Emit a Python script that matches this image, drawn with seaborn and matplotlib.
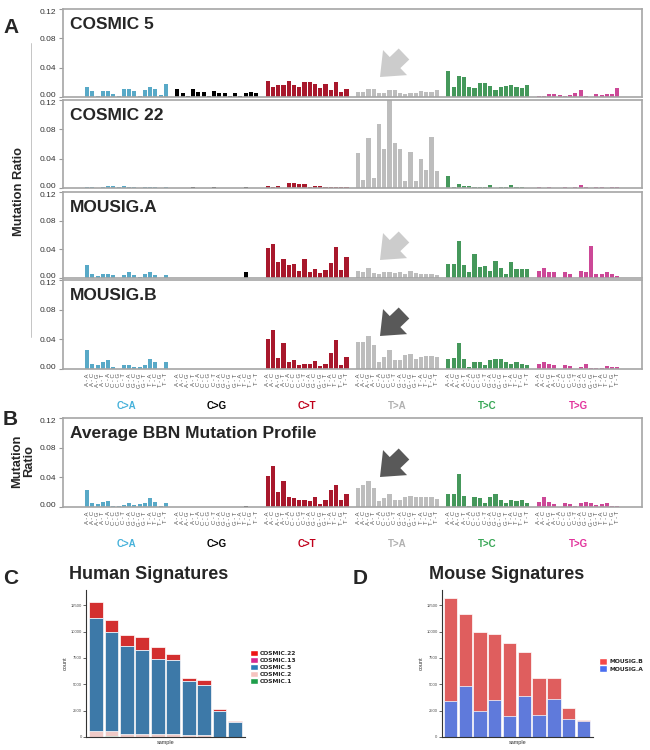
import numpy as np
import pandas as pd
import matplotlib
matplotlib.use("Agg")
from matplotlib import pyplot as plt
from matplotlib import transforms
from matplotlib.patches import Patch
import seaborn as sns

sns.set_style("white")
plt.rcParams['font.family'] = ['Liberation Sans', 'DejaVu Sans']

# ---- data -------------------------------------------------------------
mut_types = ['C>A', 'C>G', 'C>T', 'T>A', 'T>C', 'T>G']
mut_colors = {'C>A': '#45b1da', 'C>G': '#000000', 'C>T': '#c0001b',
              'T>A': '#bdbdbd', 'T>C': '#37a655', 'T>G': '#e2329c'}
label_colors = {'C>A': '#45b1da', 'C>G': '#000000', 'C>T': '#c0001b',
                'T>A': '#b0b0b0', 'T>C': '#37a655', 'T>G': '#e2329c'}
five_prime = list('AAAACCCCGGGGTTTT')
three_prime = list('ACGTACGTACGTACGT')

cosmic5 = [
    0.014, 0.008, 0.0015, 0.008, 0.008, 0.004, 0.002, 0.011, 0.011, 0.008, 0.002, 0.009, 0.013, 0.011, 0.003, 0.018,
    0.011, 0.006, 0.001, 0.011, 0.007, 0.007, 0.002, 0.008, 0.005, 0.005, 0.001, 0.005, 0.001, 0.006, 0.007, 0.006,
    0.022, 0.013, 0.016, 0.016, 0.022, 0.017, 0.013, 0.020, 0.020, 0.018, 0.012, 0.018, 0.009, 0.020, 0.007, 0.011,
    0.007, 0.007, 0.011, 0.011, 0.005, 0.006, 0.009, 0.009, 0.006, 0.004, 0.006, 0.005, 0.008, 0.007, 0.007, 0.010,
    0.035, 0.013, 0.028, 0.027, 0.013, 0.012, 0.019, 0.019, 0.015, 0.009, 0.014, 0.015, 0.017, 0.014, 0.012, 0.017,
    0.002, 0.002, 0.004, 0.004, 0.003, 0.002, 0.003, 0.006, 0.010, 0.001, 0.000, 0.004, 0.003, 0.004, 0.004, 0.0125,
]
cosmic22 = [
    0.001, 0.001, 0.000, 0.002, 0.003, 0.003, 0.001, 0.003, 0.001, 0.001, 0.000, 0.001, 0.002, 0.001, 0.000, 0.002,
    0.000, 0.000, 0.000, 0.001, 0.000, 0.000, 0.000, 0.001, 0.000, 0.000, 0.000, 0.000, 0.000, 0.001, 0.000, 0.000,
    0.003, 0.001, 0.003, 0.000, 0.007, 0.007, 0.006, 0.005, 0.002, 0.003, 0.003, 0.002, 0.002, 0.001, 0.001, 0.001,
    0.048, 0.011, 0.068, 0.014, 0.087, 0.053, 0.120, 0.061, 0.053, 0.009, 0.049, 0.010, 0.040, 0.025, 0.069, 0.023,
    0.016, 0.001, 0.005, 0.003, 0.003, 0.001, 0.002, 0.002, 0.004, 0.000, 0.001, 0.001, 0.004, 0.001, 0.001, 0.000,
    0.001, 0.000, 0.001, 0.000, 0.000, 0.001, 0.000, 0.001, 0.004, 0.002, 0.000, 0.001, 0.001, 0.000, 0.002, 0.002,
]
mousig_a = [
    0.018, 0.006, 0.003, 0.005, 0.006, 0.004, 0.000, 0.004, 0.008, 0.004, 0.002, 0.005, 0.008, 0.004, 0.000, 0.004,
    0.000, 0.000, 0.000, 0.000, 0.000, 0.000, 0.000, 0.000, 0.000, 0.000, 0.000, 0.000, 0.000, 0.008, 0.000, 0.000,
    0.042, 0.047, 0.023, 0.027, 0.018, 0.020, 0.010, 0.027, 0.008, 0.013, 0.007, 0.011, 0.021, 0.043, 0.011, 0.030,
    0.010, 0.009, 0.014, 0.007, 0.006, 0.009, 0.008, 0.007, 0.008, 0.005, 0.010, 0.007, 0.006, 0.006, 0.005, 0.004,
    0.020, 0.020, 0.051, 0.018, 0.008, 0.034, 0.015, 0.017, 0.010, 0.024, 0.014, 0.005, 0.023, 0.012, 0.012, 0.012,
    0.010, 0.014, 0.008, 0.008, 0.000, 0.008, 0.006, 0.000, 0.010, 0.009, 0.044, 0.006, 0.005, 0.009, 0.005, 0.003,
]
mousig_b = [
    0.025, 0.007, 0.005, 0.010, 0.012, 0.003, 0.000, 0.005, 0.005, 0.003, 0.003, 0.005, 0.014, 0.009, 0.000, 0.010,
    0.000, 0.000, 0.000, 0.000, 0.000, 0.000, 0.000, 0.000, 0.000, 0.000, 0.000, 0.000, 0.000, 0.0005, 0.000, 0.000,
    0.041, 0.052, 0.015, 0.035, 0.010, 0.012, 0.005, 0.007, 0.007, 0.011, 0.004, 0.007, 0.022, 0.039, 0.005, 0.016,
    0.037, 0.037, 0.045, 0.033, 0.010, 0.016, 0.026, 0.012, 0.012, 0.019, 0.020, 0.014, 0.016, 0.018, 0.017, 0.016,
    0.014, 0.015, 0.035, 0.013, 0.003, 0.010, 0.010, 0.005, 0.012, 0.013, 0.014, 0.010, 0.007, 0.009, 0.007, 0.005,
    0.007, 0.010, 0.007, 0.005, 0.000, 0.005, 0.004, 0.000, 0.003, 0.007, 0.001, 0.001, 0.001, 0.004, 0.003, 0.003,
]
bbn_average = [
    0.023, 0.005, 0.004, 0.007, 0.008, 0.001, 0.001, 0.003, 0.005, 0.003, 0.004, 0.006, 0.012, 0.007, 0.002, 0.006,
    0.0005, 0.0005, 0.0003, 0.0005, 0.0003, 0.0003, 0.0005, 0.0003, 0.0003, 0.0005, 0.0003, 0.0003, 0.0005, 0.001, 0.0003, 0.0003,
    0.042, 0.055, 0.020, 0.035, 0.013, 0.012, 0.009, 0.010, 0.008, 0.013, 0.004, 0.009, 0.023, 0.030, 0.009, 0.018,
    0.026, 0.029, 0.035, 0.025, 0.008, 0.012, 0.018, 0.010, 0.010, 0.014, 0.015, 0.013, 0.013, 0.013, 0.013, 0.011,
    0.017, 0.018, 0.045, 0.015, 0.002, 0.014, 0.012, 0.005, 0.013, 0.018, 0.010, 0.005, 0.010, 0.008, 0.009, 0.005,
    0.007, 0.014, 0.007, 0.004, 0.000, 0.005, 0.004, 0.001, 0.005, 0.007, 0.005, 0.003, 0.004, 0.005, 0.002, 0.001,
]

samples = list(range(1, 11))
human_cosmic1 = [0, 80, 0, 0, 0, 0, 0, 0, 0, 0]
human_cosmic2 = [550, 450, 320, 280, 250, 330, 200, 200, 40, 0]
human_cosmic5 = [10780, 9480, 8340, 7970, 7150, 7000, 5120, 4750, 2410, 1450]
human_cosmic13 = [0, 0, 0, 0, 0, 0, 0, 0, 0, 0]
human_cosmic22 = [1480, 1070, 1010, 1230, 1160, 540, 310, 470, 230, 30]
mouse_a = [3370, 4850, 2450, 3530, 1980, 3900, 2050, 3650, 1700, 1480]
mouse_b = [9850, 6800, 7530, 6230, 6960, 4160, 3560, 1960, 1040, 100]

human_colors = {'COSMIC.22': '#ee1414', 'COSMIC.13': '#d6288f', 'COSMIC.5': '#2b7bba',
                'COSMIC.2': '#f6c4c0', 'COSMIC.1': '#1f9e4b'}
mouse_colors = {'MOUSIG.B': '#f54848', 'MOUSIG.A': '#4a6ef0'}

# ---- helpers ----------------------------------------------------------
GROUP_STEP = 17.2  # 16 bars + gap


def profile_df(values):
    idx = np.arange(len(values))
    return pd.DataFrame({
        'value': values,
        'mut': [mut_types[i // 16] for i in idx],
        'pos': (idx // 16) * GROUP_STEP + idx % 16,
        'label': [f"{five_prime[i % 16]} - {three_prime[i % 16]}" for i in idx],
    })


def draw_profile(ax, values, title, show_x):
    df = profile_df(values)
    sns.barplot(data=df, x='pos', y='value', hue='mut', palette=mut_colors,
                native_scale=True, dodge=False, width=0.78, legend=False,
                errorbar=None, linewidth=0, ax=ax)
    ax.set_xlim(-4.6, 105.7)
    ax.set_ylim(0, 0.12)
    ax.set_xlabel('')
    ax.set_ylabel('')
    ax.set_yticks([0, 0.04, 0.08, 0.12])
    ax.set_yticklabels(['0.00', '0.04', '0.08', '0.12'])
    ax.tick_params(axis='y', length=3, color='#999999', labelsize=6,
                   labelcolor='#333333', pad=2, left=True)
    # keep end labels inside the panel so stacked panels don't collide
    ax.get_yticklabels()[-1].set_verticalalignment('top')
    ax.get_yticklabels()[0].set_verticalalignment('baseline')
    for s in ax.spines.values():
        s.set_color('#a6a6a6')
        s.set_linewidth(1.2)
    ax.text(0.012, 0.77, title, transform=ax.transAxes, fontsize=12.5,
            weight='bold', va='baseline')
    if show_x:
        ax.set_xticks(df['pos'])
        ax.set_xticklabels(df['label'], rotation=90, fontsize=4.3, color='#555555')
        ax.tick_params(axis='x', length=0, pad=3)
        trans = transforms.blended_transform_factory(ax.transData, ax.transAxes)
        for g, m in enumerate(mut_types):
            ax.text(g * GROUP_STEP + 7.5, -0.42, m, transform=trans, ha='center',
                    va='center', fontsize=7, weight='bold', color=label_colors[m])
    else:
        ax.set_xticks([])


def block_arrow(fig, tip, tail, color):
    fig.add_artist(matplotlib.patches.FancyArrowPatch(
        posA=(tail[0], 750 - tail[1]), posB=(tip[0], 750 - tip[1]),
        transform=None,
        arrowstyle="simple,head_length=0.75,head_width=1.25,tail_width=0.55",
        mutation_scale=20, color=color, lw=0, shrinkA=0, shrinkB=0))


def stacked(ax, layers, colors, xlim):
    # layers ordered bottom -> top; draw cumulative totals from the top down
    names = list(layers.keys())
    cum = np.cumsum([layers[n] for n in names], axis=0)
    for k in range(len(names) - 1, -1, -1):
        sns.barplot(x=samples, y=cum[k], color=colors[names[k]], width=0.9,
                    edgecolor='white', linewidth=0.5, errorbar=None, ax=ax)
    ax.set_xlim(*xlim)
    ax.set_ylim(0, 13950)
    ax.set_yticks([0, 2500, 5000, 7500, 10000, 12500])
    ax.set_xticks([])
    ax.tick_params(axis='y', length=2, width=0.5, labelsize=3, labelcolor='#4d4d4d',
                   pad=1, left=True)
    sns.despine(ax=ax)
    for s in ('left', 'bottom'):
        ax.spines[s].set_color('#333333')
        ax.spines[s].set_linewidth(0.8)
    ax.set_xlabel('sample', fontsize=4, color='#333333', labelpad=2)
    ax.set_ylabel('count', fontsize=4, color='#333333', labelpad=2)
    handles = [Patch(facecolor=colors[n], label=n) for n in reversed(names)]
    return handles


# ---- figure -----------------------------------------------------------
fig = plt.figure(figsize=(6.5, 7.5), dpi=100)


def px_axes(left, top, right, bottom):
    return fig.add_axes([left / 650, 1 - bottom / 750, (right - left) / 650, (bottom - top) / 750])


ax1 = px_axes(63, 9, 642, 97)
ax2 = px_axes(63, 100, 642, 188)
ax3 = px_axes(63, 192, 642, 278)
ax4 = px_axes(63, 280, 642, 369)
axb = px_axes(63, 418, 642, 507)

draw_profile(ax1, cosmic5, 'COSMIC 5', False)
draw_profile(ax2, cosmic22, 'COSMIC 22', False)
draw_profile(ax3, mousig_a, 'MOUSIG.A', False)
draw_profile(ax4, mousig_b, 'MOUSIG.B', True)
draw_profile(axb, bbn_average, 'Average BBN Mutation Profile', True)

block_arrow(fig, (380, 77), (404, 54), '#cccccc')
block_arrow(fig, (380, 260), (404, 237), '#cccccc')
block_arrow(fig, (380, 336), (404, 313), '#595959')
block_arrow(fig, (380, 477), (404, 454), '#595959')

fig.add_artist(matplotlib.lines.Line2D([31 / 650, 31 / 650], [1 - 43 / 750, 1 - 337 / 750],
                                       color='#bbbbbb', lw=0.6))
fig.text(19 / 650, 1 - 191 / 750, 'Mutation Ratio', rotation=90, ha='center', va='center',
         fontsize=9.3, weight='bold')
fig.text(23 / 650, 1 - 461 / 750, 'Mutation\nRatio', rotation=90, ha='center', va='center',
         fontsize=9.3, weight='bold', linespacing=1.05)

for letter, x, y in [('A', 3, 33), ('B', 3, 425), ('C', 3, 584), ('D', 353, 584)]:
    fig.text(x / 650, 1 - y / 750, letter, fontsize=15, weight='bold', va='baseline')

# C: human signatures
axc = px_axes(86, 590, 245, 737)
h_handles = stacked(axc, {'COSMIC.1': human_cosmic1, 'COSMIC.2': human_cosmic2,
                          'COSMIC.5': human_cosmic5, 'COSMIC.13': human_cosmic13,
                          'COSMIC.22': human_cosmic22}, human_colors, (-0.65, 9.65))
axc.legend(handles=h_handles, loc='center left', bbox_to_anchor=(1.03, 0.476),
           frameon=False, prop={'family': 'DejaVu Sans', 'weight': 'bold', 'size': 4.3},
           handlelength=1.3, handleheight=1.3, labelspacing=0.1, handletextpad=0.4,
           borderpad=0, borderaxespad=0)
fig.text(149 / 650, 1 - 579 / 750, 'Human Signatures', ha='center', va='baseline',
         fontsize=13, weight='bold')

# D: mouse signatures
axd = px_axes(441.7, 590, 593, 737)
m_handles = stacked(axd, {'MOUSIG.A': mouse_a, 'MOUSIG.B': mouse_b}, mouse_colors, (-0.6, 9.65))
axd.legend(handles=m_handles, loc='center left', bbox_to_anchor=(1.04, 0.49),
           frameon=False, prop={'family': 'DejaVu Sans', 'weight': 'bold', 'size': 4.3},
           handlelength=1.3, handleheight=1.3, labelspacing=0.1, handletextpad=0.4,
           borderpad=0, borderaxespad=0)
fig.text(507 / 650, 1 - 579 / 750, 'Mouse Signatures', ha='center', va='baseline',
         fontsize=13, weight='bold')

fig.savefig('out.png', dpi=100)
